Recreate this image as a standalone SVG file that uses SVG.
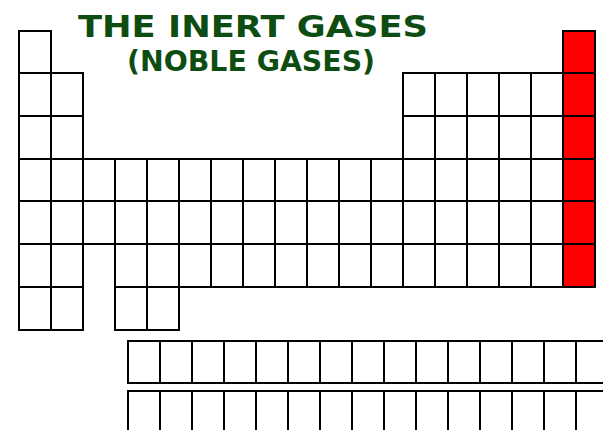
<svg xmlns="http://www.w3.org/2000/svg" width="603" height="430" viewBox="0 0 603 430">
  <style>
    .grid { fill: none; stroke: #000; stroke-width: 2; stroke-linecap: square; }
    .title { font-family: "DejaVu Sans", "Liberation Sans", sans-serif; font-weight: bold; fill: #0e4d12; }
  </style>
  <rect x="0" y="0" width="603" height="430" fill="#fff"/>
  <g id="title">
    <text class="title" x="78" y="37" font-size="30" textLength="350" lengthAdjust="spacingAndGlyphs">THE INERT GASES</text>
    <text class="title" x="127" y="70.5" font-size="28" textLength="248" lengthAdjust="spacingAndGlyphs">(NOBLE GASES)</text>
  </g>
  <g id="noble-gases-column">
    <rect x="563" y="31" width="32" height="256" fill="#ff0000"/>
  </g>
  <g id="main-table">
    <path class="grid" d="
      M19 31 H51 M563 31 H595
      M19 73 H83 M403 73 H595
      M19 116 H83 M403 116 H595
      M19 159 H595
      M19 201 H595
      M19 244 H595
      M19 287 H83 M115 287 H595
      M19 330 H83 M115 330 H179
      M19 31 V330 M51 31 V330 M83 73 V330
      M115 159 V330 M147 159 V330 M179 159 V330
      M211 159 V287 M243 159 V287 M275 159 V287 M307 159 V287 M339 159 V287 M371 159 V287
      M403 73 V287 M435 73 V287 M467 73 V287 M499 73 V287 M531 73 V287
      M563 31 V287 M595 31 V287"/>
  </g>
  <g id="f-block">
    <path class="grid" d="
      M128 341 H612 M128 383 H612 M128 391 H612
      M128 341 V383 M160 341 V383 M192 341 V383 M224 341 V383 M256 341 V383 M288 341 V383 M320 341 V383 M352 341 V383
      M384 341 V383 M416 341 V383 M448 341 V383 M480 341 V383 M512 341 V383 M544 341 V383 M576 341 V383
      M128 391 V440 M160 391 V440 M192 391 V440 M224 391 V440 M256 391 V440 M288 391 V440 M320 391 V440 M352 391 V440
      M384 391 V440 M416 391 V440 M448 391 V440 M480 391 V440 M512 391 V440 M544 391 V440 M576 391 V440"/>
  </g>
</svg>
